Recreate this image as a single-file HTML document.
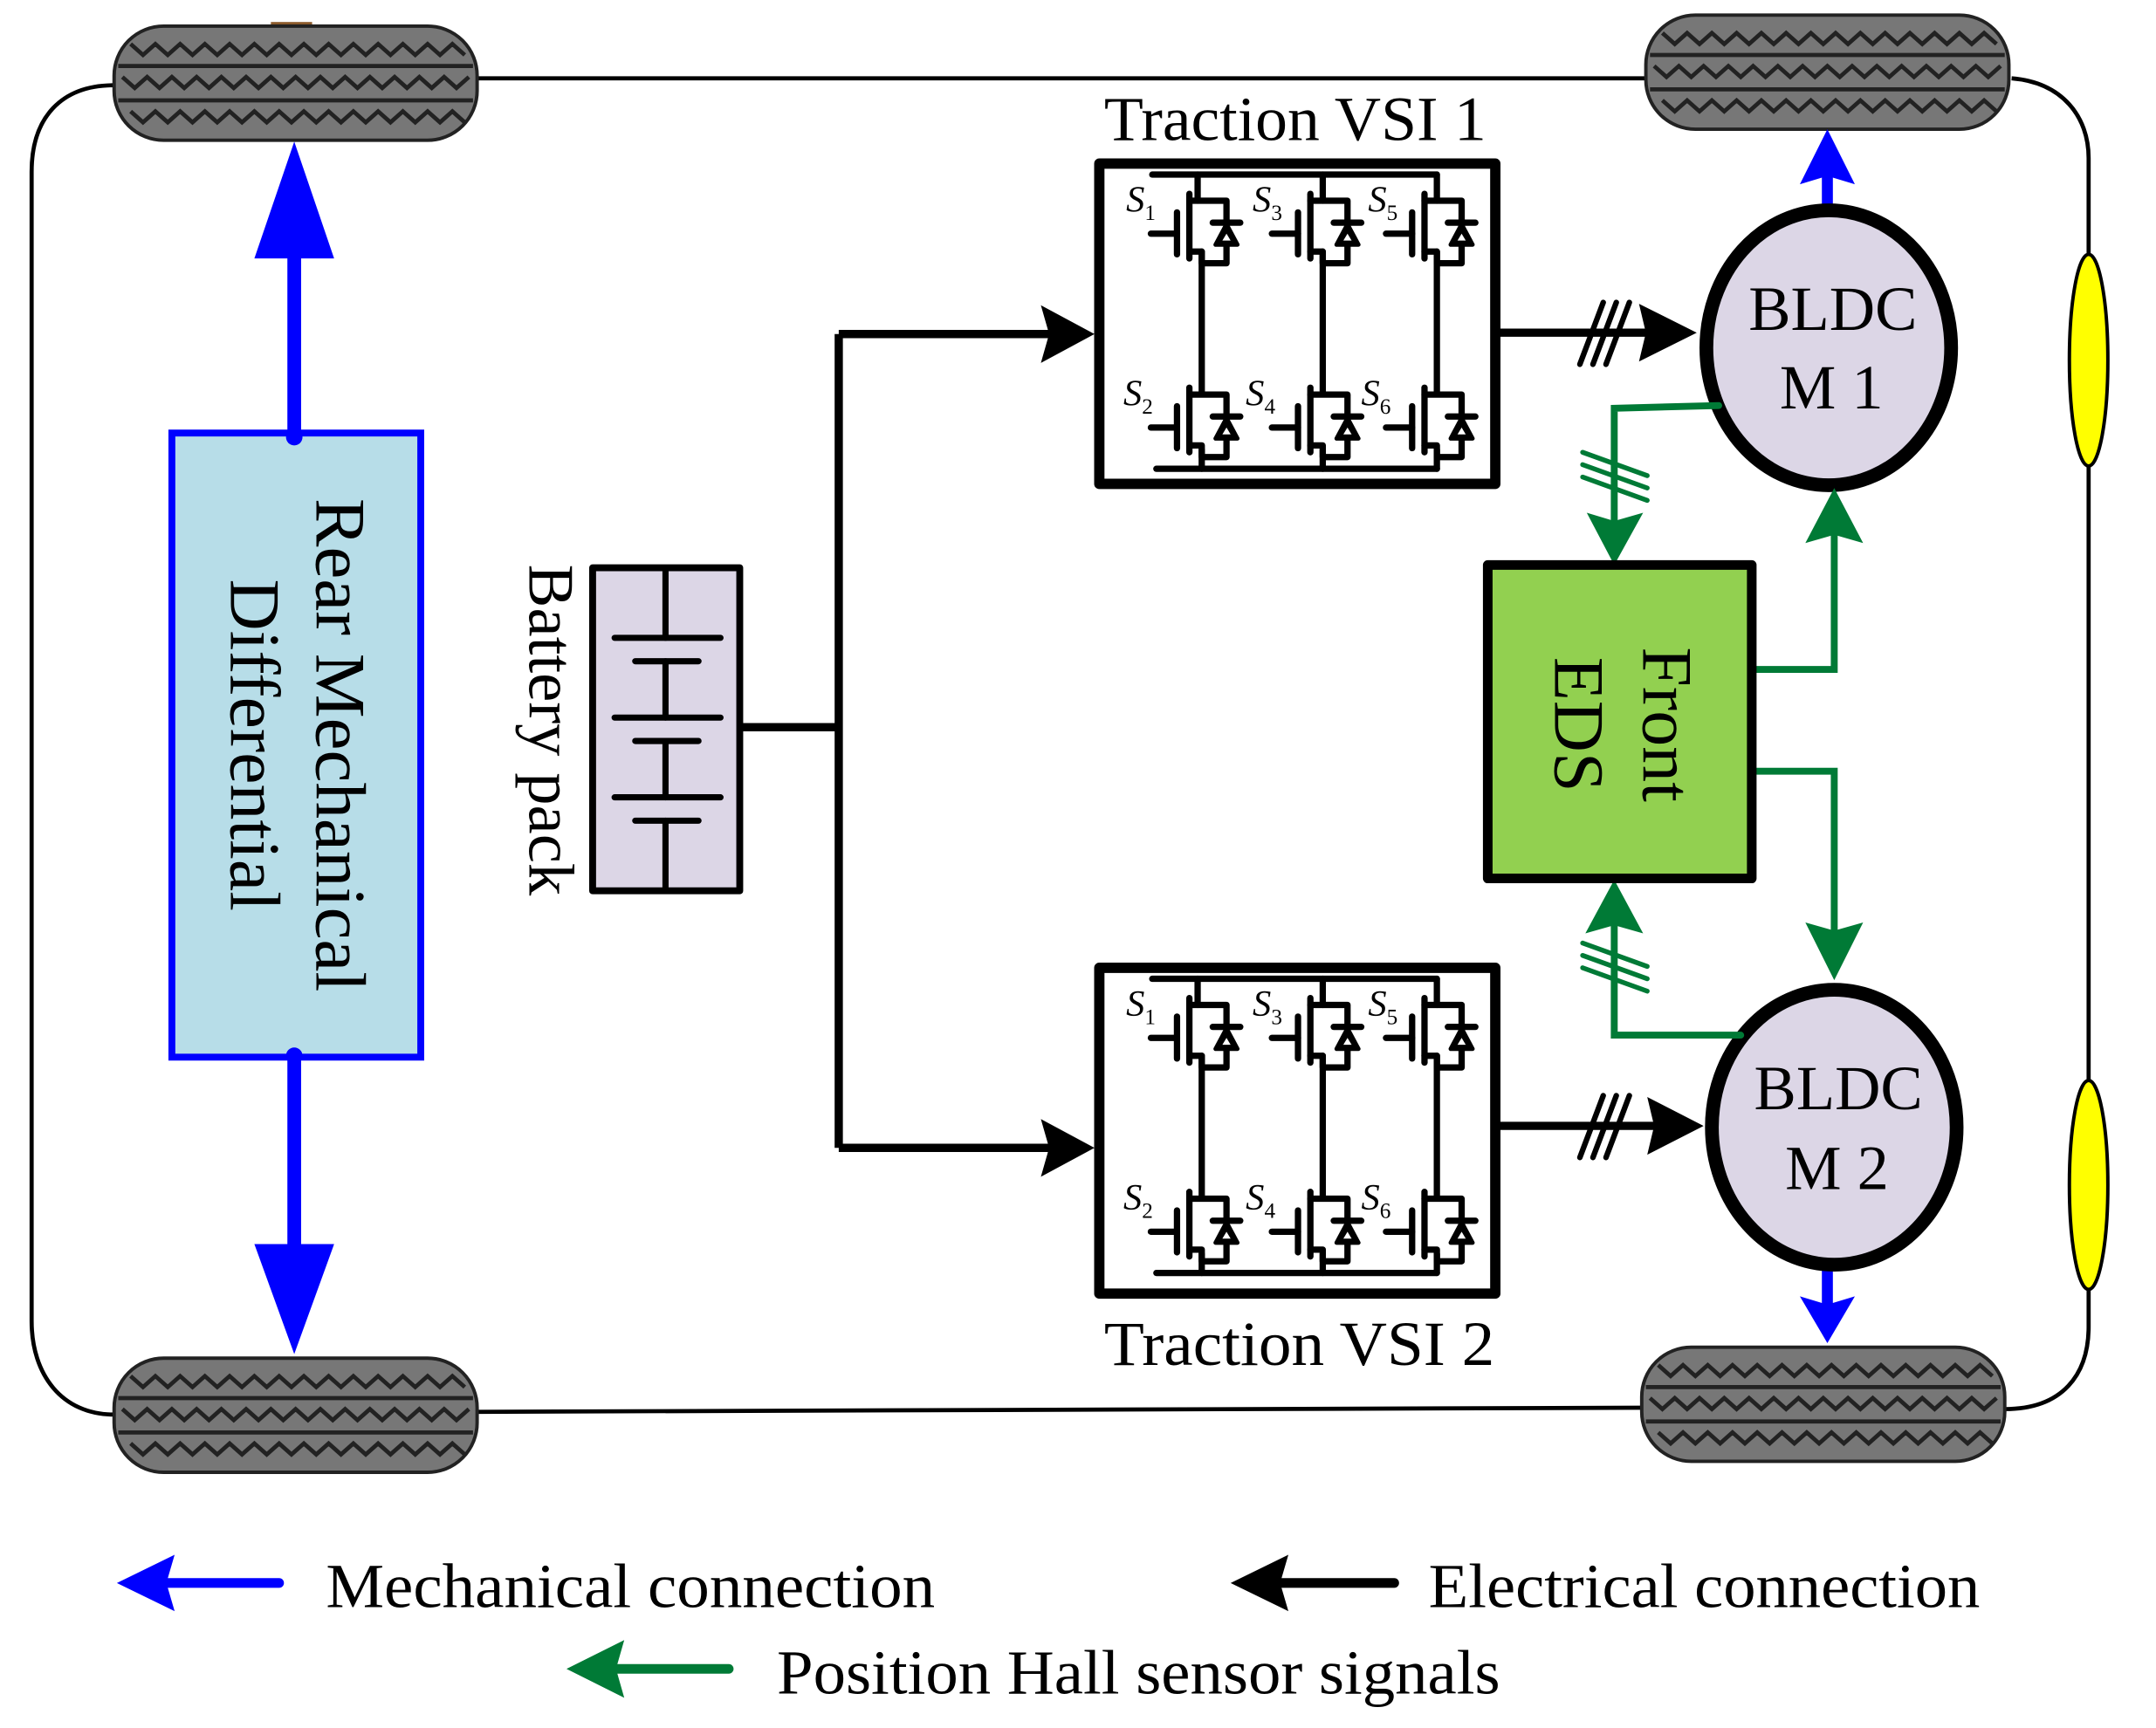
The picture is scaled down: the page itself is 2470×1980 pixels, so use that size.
<!DOCTYPE html>
<html><head><meta charset="utf-8"><style>html,body{margin:0;padding:0;background:#fff}svg{display:block}</style></head>
<body>
<svg width="2470" height="1980" viewBox="0 0 1568 1257" preserveAspectRatio="none" xmlns="http://www.w3.org/2000/svg" font-family="Liberation Serif, serif">
<defs>
<g id="tire">
<rect x="0" y="0" width="264" height="83" rx="36" fill="#777" stroke="#222" stroke-width="2.5"/>
<line x1="3" y1="29" x2="261" y2="29" stroke="#222" stroke-width="3"/>
<line x1="3" y1="54" x2="261" y2="54" stroke="#222" stroke-width="3"/>
<polyline fill="none" stroke="#222" stroke-width="3" points="12,13 21,21 30,13 39,21 48,13 57,21 66,13 75,21 84,13 93,21 102,13 111,21 120,13 129,21 138,13 147,21 156,13 165,21 174,13 183,21 192,13 201,21 210,13 219,21 228,13 237,21 246,13 255,21"/>
<polyline fill="none" stroke="#222" stroke-width="3" points="6,37 15,45 24,37 33,45 42,37 51,45 60,37 69,45 78,37 87,45 96,37 105,45 114,37 123,45 132,37 141,45 150,37 159,45 168,37 177,45 186,37 195,45 204,37 213,45 222,37 231,45 240,37 249,45 258,37"/>
<polyline fill="none" stroke="#222" stroke-width="3" points="12,62 21,70 30,62 39,70 48,62 57,70 66,62 75,70 84,62 93,70 102,62 111,70 120,62 129,70 138,62 147,70 156,62 165,70 174,62 183,70 192,62 201,70 210,62 219,70 228,62 237,70 246,62 255,70"/>
</g>
<g id="sw" fill="none" stroke="#000" stroke-width="4.6" stroke-linecap="round" stroke-linejoin="round">
<path d="M-9,-23 H18 V22.5 H0 V14 H-9"/>
<path d="M-9,-28 V19"/>
<path d="M-18,-14.5 V16"/>
<path d="M-37,1 H-18"/>
<polygon points="10,9 26,9 18,-6" fill="#000" stroke-width="3"/>
<polygon points="15,6 21,6 18,1" fill="#fff" stroke="none"/>
<path d="M8,-7 H28"/>
</g>
<g id="vsi">
<g fill="none" stroke="#000" stroke-width="4.6" stroke-linecap="round">
<path d="M39,12 H246"/>
<path d="M42,226 H246"/>
<path d="M72,12 V31 M163,12 V31 M246,12 V31"/>
<path d="M75,68 V170 M163,68 V170 M246,68 V170"/>
<path d="M75,212 V226 M163,212 V226 M246,212 V226"/>
</g>
<use href="#sw" x="75" y="54"/><use href="#sw" x="163" y="54"/><use href="#sw" x="246" y="54"/>
<use href="#sw" x="75" y="195"/><use href="#sw" x="163" y="195"/><use href="#sw" x="246" y="195"/>
<g font-style="italic" font-size="27">
<text x="20" y="39">S<tspan font-size="16" font-style="normal" dy="6">1</tspan></text>
<text x="112" y="39">S<tspan font-size="16" font-style="normal" dy="6">3</tspan></text>
<text x="196" y="39">S<tspan font-size="16" font-style="normal" dy="6">5</tspan></text>
<text x="18" y="180">S<tspan font-size="16" font-style="normal" dy="6">2</tspan></text>
<text x="107" y="180">S<tspan font-size="16" font-style="normal" dy="6">4</tspan></text>
<text x="191" y="180">S<tspan font-size="16" font-style="normal" dy="6">6</tspan></text>
</g>
</g>
</defs>

<!-- chassis -->
<g fill="none" stroke="#000" stroke-width="3">
<path d="M348,57 H1197"/>
<path d="M83,62 C45,62 23,85 23,125 V961 C23,1000 45,1029 83,1029"/>
<path d="M348,1027 L1194,1024"/>
<path d="M1463,57 C1500,60 1519,85 1519,115 V965 C1519,1000 1500,1025 1458,1025"/>
</g>
<rect x="197" y="16" width="30" height="4" fill="#8b5a2b"/>
<use href="#tire" x="83" y="19"/>
<use href="#tire" x="1197" y="11"/>
<use href="#tire" x="83" y="988"/>
<use href="#tire" x="1194" y="980"/>
<ellipse cx="1519" cy="262" rx="14" ry="77" fill="#ff0" stroke="#000" stroke-width="2.5"/>
<ellipse cx="1519" cy="862" rx="14" ry="76" fill="#ff0" stroke="#000" stroke-width="2.5"/>

<!-- rear differential -->
<line x1="214" y1="318" x2="214" y2="180" stroke="#00f" stroke-width="10"/>
<polygon points="185,188 243,188 214,103" fill="#00f"/>
<line x1="214" y1="768" x2="214" y2="910" stroke="#00f" stroke-width="10"/>
<polygon points="185,905 243,905 214,985" fill="#00f"/>
<rect x="125" y="315" width="181" height="454" fill="#b7dde8" stroke="#00f" stroke-width="5"/>
<circle cx="214" cy="318" r="6" fill="#00f"/><circle cx="214" cy="768" r="6" fill="#00f"/>
<g transform="translate(0,542) rotate(90)" font-size="52" text-anchor="middle">
<text x="0" y="-230" textLength="359" lengthAdjust="spacingAndGlyphs">Rear Mechanical</text>
<text x="0" y="-168">Differential</text>
</g>

<!-- battery -->
<rect x="431" y="413" width="107" height="235" fill="#dcd6e6" stroke="#000" stroke-width="5" stroke-linejoin="round"/>
<g stroke="#000" stroke-width="4.5" stroke-linecap="round">
<path d="M484,413 V464 M484,481 V522 M484,539 V580 M484,597 V648"/>
<path d="M447,464 H524 M462,481 H508 M447,522 H524 M462,539 H508 M447,580 H524 M462,597 H508"/>
</g>
<text transform="translate(0,531) rotate(90)" x="0" y="-385" font-size="47" text-anchor="middle" textLength="241" lengthAdjust="spacingAndGlyphs">Battery pack</text>

<!-- electrical -->
<g fill="none" stroke="#000" stroke-width="6">
<path d="M538,529 H610 M610,243 V835 M610,243 H775 M610,835 H775"/>
<path d="M1091,242 H1200 M1091,819 H1205"/>
</g>
<g stroke="#000" stroke-width="4" stroke-linecap="round">
<path d="M1149,265 L1166,220 M1158.5,265 L1175.5,220 M1168,265 L1185,220"/>
<path d="M1149,842 L1166,797 M1158.5,842 L1175.5,797 M1168,842 L1185,797"/>
</g>
<polygon points="796,243 757,222 763,243 757,264" fill="#000"/>
<polygon points="796,835 757,814 763,835 757,856" fill="#000"/>
<polygon points="1234,242 1192,221 1197,242 1192,263" fill="#000"/>
<polygon points="1239,819 1198,798 1203,819 1198,840" fill="#000"/>

<rect x="799.5" y="119" width="288" height="233" fill="#fff" stroke="#000" stroke-width="7.5" stroke-linejoin="round"/>
<use href="#vsi" x="799" y="115"/>
<rect x="799.5" y="704" width="288" height="237" fill="#fff" stroke="#000" stroke-width="7.5" stroke-linejoin="round"/>
<use href="#vsi" x="799" y="700"/>
<text x="942" y="102" font-size="46" text-anchor="middle" textLength="278" lengthAdjust="spacingAndGlyphs">Traction VSI 1</text>
<text x="945" y="993" font-size="46" text-anchor="middle" textLength="284" lengthAdjust="spacingAndGlyphs">Traction VSI 2</text>

<!-- blue motor arrows -->
<line x1="1329" y1="160" x2="1329" y2="125" stroke="#00f" stroke-width="8"/>
<polygon points="1309,134 1329,128 1349,134 1329,94" fill="#00f"/>
<line x1="1329" y1="915" x2="1329" y2="950" stroke="#00f" stroke-width="8"/>
<polygon points="1309,943 1329,949 1349,943 1329,977" fill="#00f"/>

<!-- motors -->
<ellipse cx="1330" cy="253" rx="89" ry="100" fill="#dcd6e6" stroke="#000" stroke-width="10"/>
<ellipse cx="1334" cy="820" rx="89" ry="100" fill="#dcd6e6" stroke="#000" stroke-width="10"/>
<g font-size="46" text-anchor="middle">
<text x="1333" y="240">BLDC</text><text x="1332" y="297">M 1</text>
<text x="1337" y="807">BLDC</text><text x="1336" y="865">M 2</text>
</g>

<!-- green -->
<g fill="none" stroke="#007a36" stroke-width="5" stroke-linecap="round">
<path d="M1250,295 L1174,297 V385"/>
<path d="M1277,487 H1334 V390"/>
<path d="M1277,561 H1334 V680"/>
<path d="M1266,753 H1174 V670"/>
<path d="M1151,329 L1198,346 M1151,338 L1198,355 M1151,347 L1198,364" stroke-width="3.5"/>
<path d="M1151,686 L1198,703 M1151,695 L1198,712 M1151,704 L1198,721" stroke-width="3.5"/>
</g>
<polygon points="1174,411 1154,373 1174,379 1195,373" fill="#007a36"/>
<polygon points="1334,355 1313,395 1334,389 1355,395" fill="#007a36"/>
<polygon points="1334,713 1313,671 1334,677 1355,671" fill="#007a36"/>
<polygon points="1174,640 1153,679 1174,673 1195,679" fill="#007a36"/>

<rect x="1082" y="411" width="192" height="228" fill="#92d050" stroke="#000" stroke-width="7" stroke-linejoin="round"/>
<g transform="translate(0,527) rotate(90)" font-size="52" text-anchor="middle">
<text x="0" y="-1195">Front</text>
<text x="0" y="-1131">EDS</text>
</g>

<!-- legend -->
<line x1="120" y1="1151.5" x2="203" y2="1151.5" stroke="#00f" stroke-width="7" stroke-linecap="round"/>
<polygon points="85,1151.5 127,1131 121,1151.5 127,1172" fill="#00f"/>
<text x="237" y="1169" font-size="46" textLength="443" lengthAdjust="spacingAndGlyphs">Mechanical connection</text>
<line x1="930" y1="1151.5" x2="1014" y2="1151.5" stroke="#000" stroke-width="7" stroke-linecap="round"/>
<polygon points="895,1151.5 937,1131 931,1151.5 937,1172" fill="#000"/>
<text x="1039" y="1169" font-size="46" textLength="401" lengthAdjust="spacingAndGlyphs">Electrical connection</text>
<line x1="447" y1="1214" x2="530" y2="1214" stroke="#007a36" stroke-width="7" stroke-linecap="round"/>
<polygon points="412,1214 454,1193 448,1214 454,1235" fill="#007a36"/>
<text x="565" y="1232" font-size="46" textLength="526" lengthAdjust="spacingAndGlyphs">Position Hall sensor signals</text>
</svg>
</body></html>
